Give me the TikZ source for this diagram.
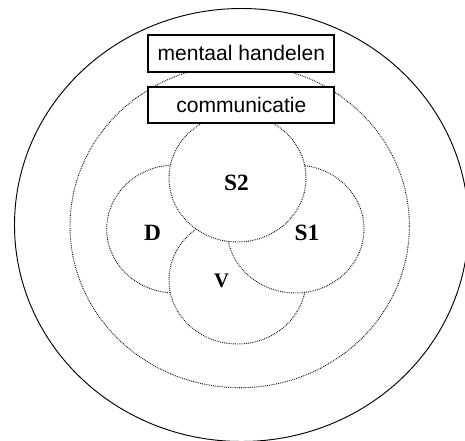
\documentclass[tikz,border=0pt]{standalone}
\usepackage{fontspec}
\setmainfont{Liberation Serif}
\setsansfont{Liberation Sans}
\usetikzlibrary{shapes.geometric}
\begin{document}
\begin{tikzpicture}[x=0.75pt,y=-0.75pt,
  ring/.style={ellipse,inner sep=0pt,fill=white},
  dotline/.style={draw=black,line width=0.7pt,dash pattern=on 0.6pt off 0.8pt},
  part/.style={ring,dotline,minimum width=102.75pt,minimum height=96pt},
  tag/.style={font=\bfseries\fontsize{17.5}{20}\selectfont,inner sep=0pt},
  labelbox/.style={draw=black,line width=1.5pt,fill=white,minimum width=139.5pt,minimum height=27.5pt,inner sep=0pt,font=\sffamily\fontsize{15.8}{18}\selectfont}]
\clip (0,0) rectangle (465,441);
\node[ring,draw=black,line width=0.7pt,minimum width=340.5pt,minimum height=324.75pt] (outer) at (241.5,225) {};
\node[ring,dotline,minimum width=254.55pt,minimum height=242.4pt] (middle) at (239.7,226.1) {};
\node[part] (cD) at (175.2,229) {};
\node[part] (cV) at (237.5,280) {};
\node[part] (cS1) at (295.5,229) {};
\node[part] (cS2) at (237.5,178) {};
\node[labelbox] (mh) at (241.3,53.3) {mentaal handelen};
\node[labelbox] (com) at (241.3,105) {communicatie};
\node[tag] (tS2) at (236.5,183) {S2};
\node[tag] (tD) at (152.5,233) {D};
\node[tag] (tS1) at (307,233) {S1};
\node[tag,font=\bfseries\fontsize{15.5}{18}\selectfont] (tV) at (221.5,281) {V};
\end{tikzpicture}
\end{document}
